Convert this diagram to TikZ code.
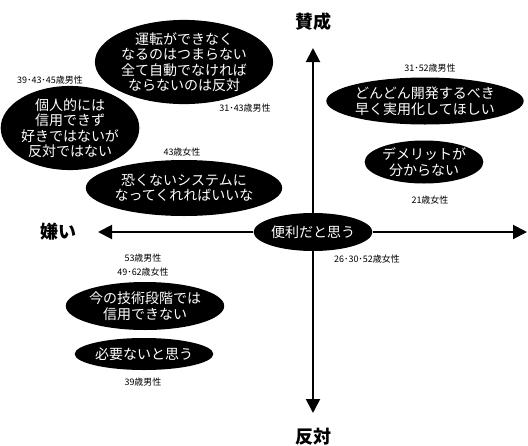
\documentclass[tikz,border=0pt]{standalone}
\usepackage{fontspec}
\setmainfont{Noto Sans CJK JP}
\usetikzlibrary{shapes.geometric,arrows.meta}
\tikzset{
  bubble/.style={ellipse, fill=black, text=white, inner sep=0pt, align=center,
    font=\fontsize{14}{15.5}\selectfont},
  who/.style={font=\fontsize{9}{10}\selectfont, inner sep=0pt},
  axislabel/.style={font=\fontsize{18}{20}\selectfont\bfseries, inner sep=0pt},
  axisline/.style={line width=2pt, -{Triangle[length=14pt,width=14pt]}}
}
\begin{document}
\begin{tikzpicture}[x=1pt,y=-1pt]
\useasboundingbox (0,0) rectangle (528,445);
% centre
\node[bubble, minimum width=111pt, minimum height=38pt] (c) at (313,232) {便利だと思う};
\coordinate (top) at (313,48);
\coordinate (bot) at (313,413);
\coordinate (lft) at (98,232);
\coordinate (rgt) at (527,232);
\draw[axisline] (c) -- (top);
\draw[axisline] (c) -- (bot);
\draw[axisline] (c) -- (lft);
\draw[axisline] (c) -- (rgt);
\node[axislabel] (yes) at (313,22) {賛成};
\node[axislabel] (no) at (313,437) {反対};
\node[axislabel] (dis) at (58,232) {嫌い};
% bubbles
\node[bubble, minimum width=164pt, minimum height=84pt] (b1) at (184,62)
  {運転ができなく\\なるのはつまらない\\全て自動でなければ\\ならないのは反対};
\node[who] (w1) at (245,108) {31･43歳男性};
\node[bubble, minimum width=120pt, minimum height=70pt] (b2) at (70,128)
  {個人的には\\信用できず\\好きではないが\\反対ではない};
\node[who] (w2) at (50,80) {39･43･45歳男性};
\node[bubble, minimum width=172pt, minimum height=56pt] (b3) at (184,188)
  {恐くないシステムに\\なってくれればいいな};
\node[who] (w3) at (182,152) {43歳女性};
\node[bubble, minimum width=166pt, minimum height=47pt] (b4) at (425,101)
  {どんどん開発するべき\\早く実用化してほしい};
\node[who] (w4) at (430,68) {31･52歳男性};
\node[bubble, minimum width=91pt, minimum height=43pt] (b5) at (424,162)
  {デメリットが\\分からない};
\node[who] (w5) at (430,200) {21歳女性};
\node[who] (wc) at (367,259) {26･30･52歳女性};
\node[who, align=center, font=\fontsize{9}{14}\selectfont] (w6) at (143,265) {53歳男性\\49･62歳女性};
\node[bubble, minimum width=154pt, minimum height=48pt] (b6) at (145,306)
  {今の技術段階では\\信用できない};
\node[bubble, minimum width=138pt, minimum height=32pt] (b7) at (144,354)
  {必要ないと思う};
\node[who] (w7) at (143,382) {39歳男性};
\end{tikzpicture}
\end{document}
